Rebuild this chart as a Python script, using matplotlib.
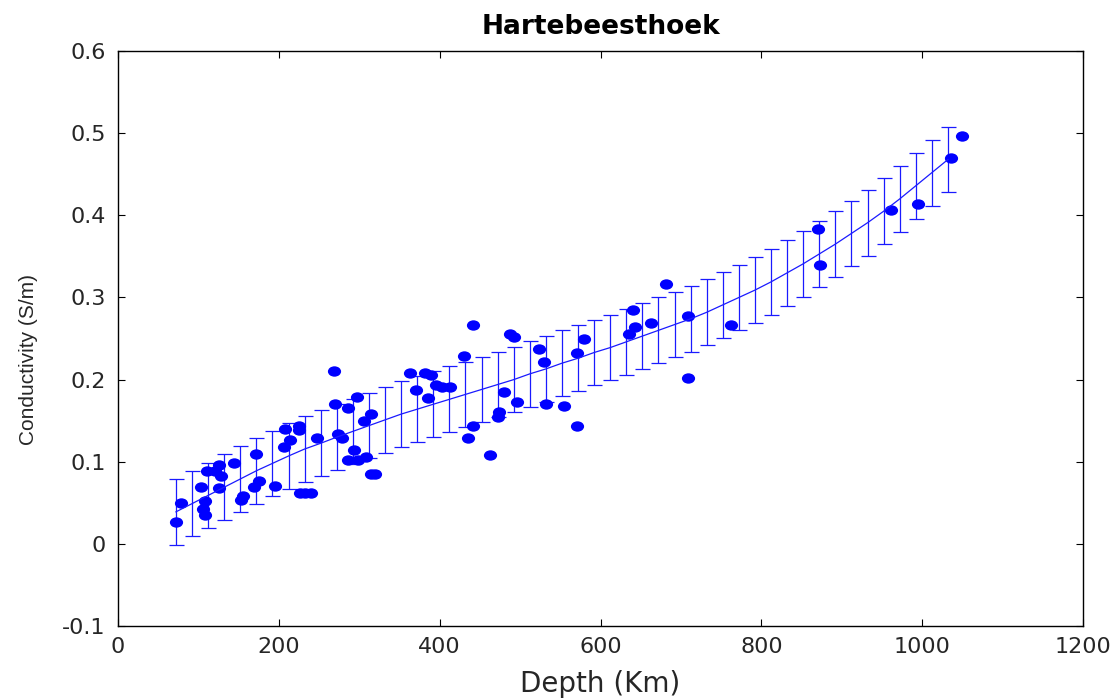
import numpy as np
import matplotlib
matplotlib.use("Agg")
import matplotlib.pyplot as plt
from matplotlib.path import Path
from matplotlib.transforms import Affine2D

plt.rcParams['font.family'] = ['DejaVu Sans']
plt.rcParams['axes.unicode_minus'] = False

# measured points (depth km, conductivity S/m)
depth = [72, 78, 103, 106, 108, 108, 111, 120, 125, 128, 125, 144, 153, 156, 169, 172, 175,
         195, 206, 208, 214, 225, 225, 226, 233, 240, 247, 269, 270, 274, 278, 286, 286,
         294, 297, 299, 306, 308, 314, 315, 319, 363, 371, 382, 389, 386, 396, 403, 413,
         430, 435, 441, 441, 463, 472, 474, 480, 488, 492, 496, 524, 530, 532, 554, 571,
         571, 580, 635, 640, 643, 663, 682, 709, 709, 762, 870, 873, 961, 995, 1036, 1050]
cond = [0.027, 0.050, 0.069, 0.042, 0.035, 0.052, 0.089, 0.089, 0.096, 0.083, 0.068, 0.098,
        0.053, 0.058, 0.069, 0.110, 0.077, 0.071, 0.118, 0.140, 0.127, 0.144, 0.139, 0.062,
        0.062, 0.062, 0.129, 0.210, 0.170, 0.134, 0.129, 0.166, 0.102, 0.114, 0.179, 0.102,
        0.150, 0.106, 0.158, 0.085, 0.085, 0.208, 0.187, 0.208, 0.206, 0.178, 0.193, 0.191,
        0.191, 0.229, 0.129, 0.266, 0.143, 0.108, 0.154, 0.160, 0.185, 0.255, 0.252, 0.173,
        0.237, 0.221, 0.170, 0.168, 0.233, 0.144, 0.249, 0.256, 0.285, 0.264, 0.269, 0.316,
        0.277, 0.202, 0.266, 0.383, 0.339, 0.406, 0.414, 0.470, 0.497]

# fitted curve with error bars
fit_depth = [72, 92, 112, 132, 152, 172, 192, 212, 232, 252, 272, 292, 312, 332, 352, 372,
             392, 412, 432, 452, 472, 492, 512, 532, 552, 572, 592, 612, 632, 652, 672, 692,
             712, 732, 752, 772, 792, 812, 832, 852, 872, 892, 912, 932, 952, 972, 992, 1012,
             1032]
fit_cond = [0.039, 0.049, 0.059, 0.069, 0.079, 0.089, 0.098, 0.107, 0.1155, 0.1225, 0.130,
            0.137, 0.144, 0.151, 0.158, 0.164, 0.170, 0.176, 0.182, 0.188, 0.194, 0.200,
            0.207, 0.213, 0.220, 0.226, 0.233, 0.239, 0.246, 0.253, 0.260, 0.267, 0.274,
            0.282, 0.291, 0.300, 0.309, 0.319, 0.330, 0.341, 0.353, 0.365, 0.378, 0.391,
            0.405, 0.420, 0.436, 0.452, 0.468]
fit_err = 0.04

xticks = [0, 200, 400, 600, 800, 1000, 1200]
yticks = [-0.1, 0, 0.1, 0.2, 0.3, 0.4, 0.5, 0.6]
ytick_labels = ['-0.1', '0', '0.1', '0.2', '0.3', '0.4', '0.5', '0.6']

txt = '#262626'

fig = plt.figure(figsize=(11.2, 7), dpi=100)
ax = fig.add_axes([0.1054, 0.1057, 0.8616, 0.8213])

ax.errorbar(fit_depth, fit_cond, yerr=fit_err, color='#1a1aff', lw=0.9, elinewidth=0.9,
            capsize=5.4, capthick=0.9)

# slightly wide ellipse marker
ell = Path.unit_circle().transformed(Affine2D().scale(1.27, 1.0))
ax.plot(depth, cond, linestyle='none', marker=ell, markersize=9.5, color='#0000ff',
        markeredgewidth=0)

ax.set_xlim(0, 1200)
ax.set_ylim(-0.1, 0.6)
ax.set_xticks(xticks)
ax.set_xticklabels([str(t) for t in xticks])
ax.set_yticks(yticks)
ax.set_yticklabels(ytick_labels)
ax.tick_params(direction='in', length=5, width=0.8, top=True, right=True,
               labelsize=16, colors='black', labelcolor=txt)
ax.tick_params(axis='x', pad=8)
ax.tick_params(axis='y', pad=9)
for s in ax.spines.values():
    s.set_linewidth(1.0)

ax.set_title('Hartebeesthoek', fontsize=19, fontweight='bold', color='black', pad=12)
ax.set_xlabel('Depth (Km)', fontsize=20, color=txt, labelpad=9)
ax.set_ylabel('Conductivity (S/m)', fontsize=15, color=txt,
              family=['Liberation Sans', 'DejaVu Sans'])
ax.yaxis.set_label_coords(-0.083, 0.464)

fig.savefig('out.png', dpi=100)
